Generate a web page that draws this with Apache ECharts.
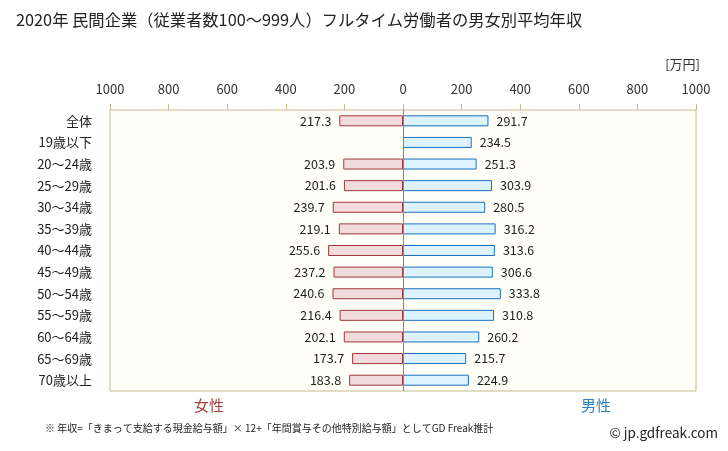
<!DOCTYPE html>
<html>
<head>
<meta charset="utf-8">
<script src="https://cdn.jsdelivr.net/npm/echarts@6/dist/echarts.min.js"></script>
<style>
html,body{margin:0;padding:0;background:#fff;}
#c{width:728px;height:451px;}
</style>
</head>
<body>
<div id="c"></div>
<script>
var categories = ['全体','19歳以下','20〜24歳','25〜29歳','30〜34歳','35〜39歳','40〜44歳','45〜49歳','50〜54歳','55〜59歳','60〜64歳','65〜69歳','70歳以上'];
var femaleValues = [217.3, null, 203.9, 201.6, 239.7, 219.1, 255.6, 237.2, 240.6, 216.4, 202.1, 173.7, 183.8];
var maleValues = [291.7, 234.5, 251.3, 303.9, 280.5, 316.2, 313.6, 306.6, 333.8, 310.8, 260.2, 215.7, 224.9];

var FONT = '"Noto Sans CJK JP", "Noto Sans", sans-serif';
var chart = echarts.init(document.getElementById('c'));
chart.setOption({
  animation: false,
  textStyle: {fontFamily: FONT},
  graphic: [
    {type:'text', left:16, top:12, style:{text:'2020年 民間企業（従業者数100〜999人）フルタイム労働者の男女別平均年収', font:'16.3px ' + FONT, fill:'#222'}},
    {type:'text', right:28, top:58, style:{text:'[万円]', font:'13px ' + FONT, fill:'#333'}},
    {type:'text', left:194, top:398, style:{text:'女性', font:'15px ' + FONT, fill:'#a0403f'}},
    {type:'text', left:581, top:398, style:{text:'男性', font:'15px ' + FONT, fill:'#2a7fc6'}},
    {type:'text', left:45, top:423, style:{text:'※ 年収=「きまって支給する現金給与額」× 12+「年間賞与その他特別給与額」としてGD Freak推計', font:'10px ' + FONT, fill:'#222'}},
    {type:'text', right:10, top:426, style:{text:'© jp.gdfreak.com', font:'13.5px ' + FONT, fill:'#222'}}
  ],
  grid: {left:110, right:32, top:110, bottom:60, show:true, backgroundColor:'#fffff8', borderColor:'#c8b98c', borderWidth:1},
  xAxis: {
    type:'value', position:'top', min:-1000, max:1000, interval:200,
    axisLine:{show:false},
    axisTick:{show:true, length:6, lineStyle:{color:'#c8b98c'}},
    splitLine:{show:false},
    axisLabel:{margin:14, fontSize:13, color:'#333', formatter:function(v){return Math.abs(v);}}
  },
  yAxis: {
    type:'category', data:categories, inverse:true,
    axisLine:{show:false}, axisTick:{show:false},
    axisLabel:{margin:18, fontSize:13, color:'#222'}
  },
  series: [
    {
      type:'bar', name:'女性',
      data: femaleValues.map(function(v){return v == null ? '-' : -v;}),
      barWidth:11, barGap:'-100%',
      itemStyle:{color:'#f2dcdb', borderColor:'#a0373a', borderWidth:1, borderRadius:0},
      label:{show:true, position:'left', distance:8, fontSize:12.5, color:'#222', formatter:function(p){return Math.abs(p.value).toFixed(1);}},
      markLine:{silent:true, symbol:'none', label:{show:false}, lineStyle:{color:'#888', width:1, type:'solid'}, data:[{xAxis:0}]}
    },
    {
      type:'bar', name:'男性',
      data: maleValues,
      barWidth:11, barGap:'-100%',
      itemStyle:{color:'#dcf2fd', borderColor:'#1a70c0', borderWidth:1, borderRadius:0},
      label:{show:true, position:'right', distance:8, fontSize:12.5, color:'#222', formatter:function(p){return p.value.toFixed(1);}}
    }
  ]
});
</script>
</body>
</html>
